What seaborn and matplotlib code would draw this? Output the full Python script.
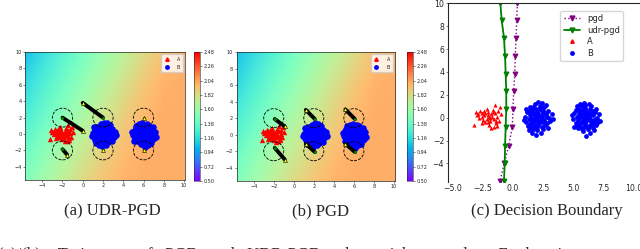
import numpy as np
import matplotlib
matplotlib.use("Agg")
import matplotlib.pyplot as plt
import seaborn as sns
from matplotlib.patches import Ellipse
from matplotlib.lines import Line2D
from matplotlib.ticker import FormatStrFormatter

# ---- data ----
# class A (red triangles)
a_x = [-2.0, -1.8, -2.2, -2.4, -1.6, -2.1, -1.9, -2.6, -1.5, -2.3,
       -1.7, -2.8, -1.3, -2.5, -2.0, -1.4, -2.7, -1.2, -3.1, -1.1,
       -2.2, -1.6, -2.9, -3.2, -1.0, -1.8, -2.4, -1.5, -2.6, -1.9,
       -2.1, -1.75, -2.35, -1.45, -2.05, -1.65, -2.55, -1.25, -3.0, -1.35]
a_y = [0.1, 0.3, -0.1, 0.2, -0.1, 0.5, -0.3, 0.4, 0.4, -0.4,
       0.7, 0.0, 0.1, -0.2, -0.6, -0.5, 0.6, -0.3, 0.5, 0.9,
       0.8, -0.8, 0.3, -0.6, 0.3, -0.9, 0.6, 1.1, -0.5, 0.0,
       0.25, 0.05, 0.45, -0.25, -0.35, 0.5, 0.05, 0.6, 0.2, -0.7]

# class B, first blob
b1_x = [2.0, 1.8, 2.2, 2.1, 1.9, 2.4, 1.6, 2.3, 1.7, 2.5,
        1.5, 2.0, 2.1, 2.6, 1.4, 1.8, 2.3, 2.7, 1.3, 1.9,
        2.4, 1.6, 2.8, 1.2, 2.2, 1.7, 2.9, 1.1, 2.0, 2.6,
        1.5, 3.0, 1.0, 2.5, 1.4, 3.1, 1.8, 2.3, 0.9, 2.1,
        3.2, 1.3, 2.7, 1.9, 2.9, 1.1, 2.4, 1.6, 3.3, 2.0,
        1.75, 2.25, 2.05, 1.95, 2.35, 1.65, 2.45, 1.55, 2.15, 1.85,
        2.65, 1.45, 2.75, 1.35, 2.55, 2.85, 1.25, 2.2, 1.7, 2.0]
b1_y = [0.0, 0.2, -0.1, 0.3, -0.3, 0.1, 0.0, -0.4, 0.4, 0.4,
        -0.3, 0.6, -0.6, -0.2, 0.2, -0.7, 0.7, 0.2, -0.1, 0.8,
        -0.8, 0.7, -0.5, 0.5, 1.0, -1.0, 0.6, -0.4, -1.1, 0.9,
        -0.8, 0.0, 0.1, -1.0, 0.9, -0.3, 1.2, -1.3, -0.2, 1.4,
        0.3, -1.1, 1.1, -1.5, -0.9, 0.8, 1.3, -1.3, -0.1, 0.35,
        -0.15, 0.15, -0.35, 0.45, -0.25, -0.45, 0.6, 0.45, 0.05, -0.05,
        -0.6, -0.55, 0.45, 0.6, -0.35, 0.1, -0.7, 0.85, 0.95, -0.85]

# class B, second blob
b2_x = [6.0, 5.8, 6.2, 6.1, 5.9, 6.4, 5.6, 6.3, 5.7, 6.5,
        5.5, 6.0, 6.1, 6.6, 5.4, 5.8, 6.3, 6.7, 5.3, 5.9,
        6.4, 5.6, 6.8, 5.2, 6.2, 5.7, 6.9, 5.1, 6.0, 6.6,
        5.5, 7.0, 5.0, 6.5, 5.4, 7.1, 5.8, 6.3, 4.9, 6.1,
        7.2, 5.3, 6.7, 5.9, 6.9, 5.1, 6.4, 5.6, 7.0, 6.0,
        5.75, 6.25, 6.05, 5.95, 6.35, 5.65, 6.45, 5.55, 6.15, 5.85,
        6.65, 5.45, 6.75, 5.35, 6.55, 6.85, 5.25, 6.2, 5.7, 6.0]
b2_y = [0.0, -0.2, 0.1, -0.3, 0.3, -0.1, 0.1, 0.4, -0.4, -0.4,
        0.3, -0.6, 0.6, 0.2, -0.2, 0.7, -0.7, -0.2, 0.1, -0.8,
        0.8, -0.7, 0.5, -0.5, -1.0, 1.0, -0.6, 0.4, 1.1, -0.9,
        0.8, 0.0, -0.1, 1.0, -0.9, 0.3, -1.2, 1.2, 0.2, -1.6,
        -0.3, 1.0, -1.1, 1.3, 0.8, -0.8, -1.3, 1.2, -0.5, -0.35,
        0.15, -0.15, 0.35, -0.45, 0.25, 0.45, -0.6, -0.45, -0.05, 0.05,
        0.6, 0.55, -0.45, -0.6, 0.35, -0.1, 0.7, -0.85, -0.95, 0.85]

b_x = b1_x + b2_x
b_y = b1_y + b2_y

# background field (colour values read on a coarse grid, rows top -> bottom)
field_x = [-6, -4, -2, 0, 2, 4, 6, 8, 10]
field_y = [10, 6, 2, -2, -6]
field_z = [
    [1.00, 1.14, 1.28, 1.42, 1.56, 1.70, 1.84, 1.96, 2.02],
    [1.11, 1.25, 1.39, 1.53, 1.67, 1.81, 1.93, 2.01, 2.03],
    [1.22, 1.36, 1.50, 1.64, 1.78, 1.90, 1.99, 2.03, 2.03],
    [1.34, 1.48, 1.62, 1.76, 1.88, 1.97, 2.02, 2.03, 2.03],
    [1.45, 1.59, 1.73, 1.86, 1.95, 2.01, 2.03, 2.03, 2.03],
]
cbar_ticks = [0.50, 0.72, 0.94, 1.16, 1.38, 1.60, 1.82, 2.04, 2.26, 2.48]

# perturbation balls
circle_x = [-2, -2, 2, 2, 6, 6]
circle_y = [2, -2, 2, -2, 2, -2]

# trajectories: start (x0, y0) -> end (x1, y1)
udr_traj = [(-2.0, 2.0, 0.0, 0.4), (2.0, 2.0, 0.0, 3.8), (-2.0, -1.85, -1.55, -2.5),
            (2.0, -1.95, 2.0, -1.95), (6.05, 2.0, 6.05, 2.0), (6.05, -1.95, 6.05, -1.95)]
pgd_traj = [(-1.9, 1.9, -0.9, 1.0), (-1.9, -1.6, -0.9, -3.0), (2.1, 1.9, 1.2, 3.0),
            (2.1, -2.1, 1.2, -1.1), (6.1, 1.9, 5.15, 3.05), (6.1, -2.1, 5.15, -1.1)]

# decision boundaries
line_y = [10.0, 8.5, 7.0, 5.4, 3.85, 2.3, 0.75, -0.8, -2.45, -4.0, -5.55]
pgd_x = [0.36, 0.31, 0.25, 0.19, 0.14, 0.06, 0.0, -0.06, -0.36, -0.72, -1.08]
udr_x = [-1.05, -0.94, -0.75, -0.66, -0.61, -0.56, -0.56, -0.61, -0.66, -0.69, -0.75]

sns.set_style("ticks")
plt.rcParams["font.family"] = ["DejaVu Sans"]
plt.rcParams["axes.linewidth"] = 0.5

fig = plt.figure(figsize=(6.4, 2.49), dpi=100)
ax_a = fig.add_axes([0.0391, 0.2771, 0.25, 0.514])
cax_a = fig.add_axes([0.3031, 0.2731, 0.0094, 0.518])
ax_b = fig.add_axes([0.3698, 0.2731, 0.2473, 0.518])
cax_b = fig.add_axes([0.6355, 0.2731, 0.0094, 0.518])
ax_c = fig.add_axes([0.7005, 0.2703, 0.3006, 0.7165])

norm = plt.Normalize(0.5, 2.48)


def draw_field(ax, cax, trajs):
    # grid points sit at pixel centres, so pad the extent by half a cell
    ax.imshow(np.array(field_z), cmap="rainbow", norm=norm, alpha=0.92,
              interpolation="bilinear", aspect="auto", origin="upper",
              extent=(-7, 11, -8, 12), zorder=0)
    sns.scatterplot(x=a_x, y=a_y, color="red", marker="^", s=15, linewidth=0,
                    ax=ax, zorder=2)
    sns.scatterplot(x=b_x, y=b_y, color="blue", marker="o", s=22, linewidth=0,
                    ax=ax, zorder=2)
    for cx, cy in zip(circle_x, circle_y):
        ax.add_patch(Ellipse((cx, cy), 2.0, 2.3, fill=False, ls="--", lw=0.6,
                             color="black", zorder=3))
    for x0, y0, x1, y1 in trajs:
        ax.plot([x0, x1], [y0, y1], color="black", lw=2.8, zorder=4,
                solid_capstyle="round")
        ax.scatter([x0], [y0], color="green", s=5, lw=0, zorder=5)
        ax.scatter([x1], [y1], color="yellow", edgecolor="black", marker="^",
                   s=8, lw=0.4, zorder=6)
    ax.set_xlim(-5.7, 10.1)
    ax.set_ylim(-5.6, 10)
    ax.set_xticks(range(-4, 11, 2))
    ax.set_yticks(range(-4, 11, 2))
    ax.tick_params(labelsize=3.5, length=1.5, width=0.4, pad=1)
    handles = [Line2D([], [], color="red", marker="^", ls="", ms=2.5),
               Line2D([], [], color="blue", marker="o", ls="", ms=2.5)]
    ax.legend(handles, ["A", "B"], loc="upper right", fontsize=3.5,
              handlelength=1.2, borderpad=0.5, labelspacing=0.6, handletextpad=1.5)
    sm = plt.cm.ScalarMappable(norm=norm, cmap="rainbow")
    cb = fig.colorbar(sm, cax=cax, ticks=cbar_ticks)
    cb.ax.tick_params(labelsize=3.5, length=1.5, width=0.4, pad=1)
    cb.ax.yaxis.set_major_formatter(FormatStrFormatter("%.2f"))
    cb.outline.set_linewidth(0.4)


draw_field(ax_a, cax_a, udr_traj)
draw_field(ax_b, cax_b, pgd_traj)

# panel (c)
sns.scatterplot(x=a_x, y=a_y, color="red", marker="^", s=9, linewidth=0, ax=ax_c)
sns.scatterplot(x=b_x, y=b_y, color="blue", marker="o", s=12, linewidth=0, ax=ax_c)
sns.lineplot(x=pgd_x, y=line_y, sort=False, estimator=None, color="purple",
             ls=":", lw=1.0, marker="v", ms=3.5, mec="purple", ax=ax_c)
sns.lineplot(x=udr_x, y=line_y, sort=False, estimator=None, color="green",
             lw=1.3, marker="v", ms=3.5, mec="green", ax=ax_c)
ax_c.set_xlim(-5.37, 10.6)
ax_c.set_ylim(-5.6, 10)
ax_c.set_xticks([-5.0, -2.5, 0.0, 2.5, 5.0, 7.5, 10.0])
ax_c.set_yticks(range(-4, 11, 2))
ax_c.tick_params(labelsize=5.6, length=1.5, width=0.4, pad=1.5)
ax_c.tick_params(axis="x", length=0)
ax_c.spines["bottom"].set_visible(False)
for s in ax_c.spines.values():
    s.set_linewidth(0.8)
handles_c = [Line2D([], [], color="purple", ls=":", lw=1.0, marker="v", ms=3.5),
             Line2D([], [], color="green", lw=1.3, marker="v", ms=3.5),
             Line2D([], [], color="red", marker="^", ls="", ms=2.5),
             Line2D([], [], color="blue", marker="o", ls="", ms=2.5)]
ax_c.legend(handles_c, ["pgd", "udr-pgd", "A", "B"], loc="upper right",
            bbox_to_anchor=(0.93, 0.98), fontsize=6, handlelength=2.0,
            borderpad=0.4, labelspacing=0.3)

# captions
serif = ["Liberation Serif", "DejaVu Serif"]
fig.text(0.175, 0.153, "(a) UDR-PGD", ha="center", va="center", fontsize=12, family=serif)
fig.text(0.5, 0.153, "(b) PGD", ha="center", va="center", fontsize=12, family=serif)
fig.text(0.855, 0.153, "(c) Decision Boundary", ha="center", va="center", fontsize=12, family=serif)
fig.text(-0.003, -0.042, "(a)/(b):   Trajectory   of   PGD   and   UDR-PGD   adversarial   examples.   Explanation",
         ha="left", va="baseline", fontsize=12, family=serif)

fig.savefig("out.png", dpi=100)
